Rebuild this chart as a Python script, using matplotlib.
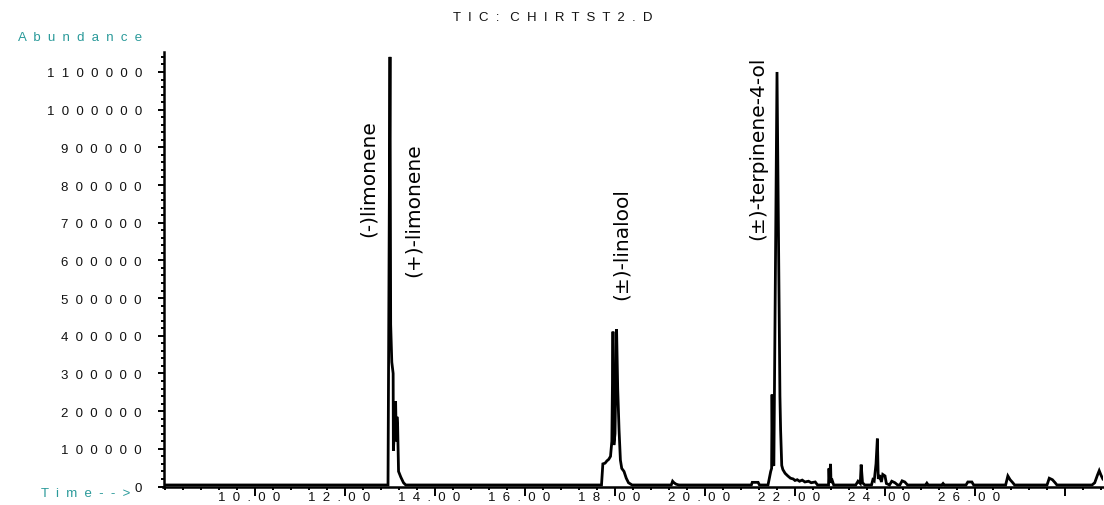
import matplotlib
matplotlib.use('Agg')
import matplotlib.pyplot as plt
from matplotlib.ticker import FixedLocator, FixedFormatter, MultipleLocator
from matplotlib.transforms import ScaledTranslation

plt.rcParams['font.family'] = ['Liberation Sans', 'DejaVu Sans']

# TIC trace, retention time (min) vs abundance
BASE = 4000
time_min = [
    7.97, 12.95, 12.956, 13.00, 13.015, 13.04, 13.07, 13.075, 13.10, 13.125,
    13.14, 13.155, 13.17, 13.19, 13.24, 13.30, 13.35,
    17.70, 17.715, 17.73, 17.78, 17.82, 17.86, 17.90, 17.93, 17.955, 17.975,
    18.00, 18.035, 18.06, 18.09, 18.12, 18.15, 18.20, 18.25, 18.30, 18.38,
    19.25, 19.28, 19.31, 19.36, 19.42,
    21.03, 21.05, 21.18, 21.21,
    21.40, 21.46, 21.48, 21.49, 21.505, 21.53, 21.60, 21.665, 21.68, 21.705,
    21.73, 21.78, 21.84, 21.90, 21.96, 22.00, 22.05, 22.10, 22.16, 22.22,
    22.30, 22.36, 22.45, 22.50,
    22.745, 22.755, 22.765, 22.79, 22.80, 22.83, 22.86,
    23.35, 23.40, 23.45, 23.47, 23.50, 23.55,
    23.70, 23.73, 23.76, 23.80, 23.83, 23.85, 23.88, 23.92, 23.95, 24.00,
    24.03, 24.10, 24.15, 24.22, 24.28, 24.33, 24.38, 24.44, 24.50,
    24.90, 24.93, 24.96, 25.26, 25.29, 25.32,
    25.80, 25.84, 25.93, 25.97,
    26.68, 26.73, 26.78, 26.84, 26.88,
    27.60, 27.65, 27.72, 27.78, 27.82,
    28.60, 28.66, 28.72, 28.76, 28.80, 28.84,
]
abundance = [
    BASE, BASE, BASE, 1140000, 430000, 330000, 300000, 95000, 150000, 226000,
    120000, 185000, 160000, 40000, 25000, 10000, BASE,
    BASE, 30000, 60000, 62000, 68000, 72000, 80000, 120000, 411000, 110000,
    140000, 417000, 260000, 150000, 70000, 48000, 40000, 22000, 10000, BASE,
    BASE, 14000, 10000, 6000, BASE,
    BASE, 11000, 11000, BASE,
    BASE, 40000, 48000, 244000, 60000, 55000, 1100000, 240000, 150000, 56000,
    45000, 35000, 28000, 22000, 20000, 16000, 18000, 14000, 17000, 12000,
    14000, 10000, 12000, BASE,
    BASE, 48000, 20000, 60000, 10000, 15000, BASE,
    BASE, 14000, 8000, 58000, 10000, BASE,
    BASE, 18000, 15000, 60000, 127000, 20000, 30000, 12000, 32000, 28000,
    8000, BASE, 14000, 10000, BASE, BASE, 15000, 12000, BASE,
    BASE, 9000, BASE, BASE, 8000, BASE,
    BASE, 12000, 12000, BASE,
    BASE, 28000, 18000, 10000, BASE,
    BASE, 22000, 18000, 10000, BASE,
    BASE, 10000, 30000, 42000, 30000, 20000,
]

peak_names = ['(-)limonene', '(+)-limonene', '(±)-linalool', '(±)-terpinene-4-ol']
peak_label_at = [(12.51, 665000), (13.51, 559000), (18.13, 498000), (21.18, 657000)]

x_major = [10, 12, 14, 16, 18, 20, 22, 24, 26, 28]
x_major_text = ['10.00', '12.00', '14.00', '16.00', '18.00', '20.00', '22.00', '24.00', '26.00', '']
y_major = list(range(0, 1100001, 100000))

teal = '#2a9a9a'
ink = '#111111'


def spaced(s):
    return '  '.join(s)


fig = plt.figure(figsize=(11.04, 5.06), dpi=100)
ax = fig.add_axes([163.5 / 1104, 18.5 / 506, 939.5 / 1104, 434.5 / 506])

ax.plot(time_min, abundance, color='black', lw=2.0, solid_joinstyle='miter')

ax.set_xlim(7.967, 28.844)
ax.set_ylim(0, 1153000)

for side in ('top', 'right'):
    ax.spines[side].set_visible(False)
for side in ('left', 'bottom'):
    ax.spines[side].set_linewidth(1.8)

ax.xaxis.set_major_locator(FixedLocator(x_major))
ax.xaxis.set_major_formatter(FixedFormatter([spaced(t) for t in x_major_text]))
ax.xaxis.set_minor_locator(MultipleLocator(0.4))
ax.yaxis.set_major_locator(FixedLocator(y_major))
ax.yaxis.set_major_formatter(FixedFormatter([spaced(str(v)) for v in y_major]))
ax.yaxis.set_minor_locator(MultipleLocator(20000))

ax.tick_params(axis='x', which='major', length=6.5, width=1.4, pad=-3.5,
               labelsize=9.5, labelcolor=ink, direction='out')
ax.tick_params(axis='x', which='minor', length=2.5, width=1.4, direction='out')
ax.tick_params(axis='y', which='major', length=4.5, width=1.4, pad=11,
               labelsize=9.5, labelcolor=ink, direction='out')
ax.tick_params(axis='y', which='minor', length=2.2, width=1.4, direction='out')

# put the decimal point of each time label under its tick
shift = ScaledTranslation(-6 / 100, 0, fig.dpi_scale_trans)
for lab in ax.get_xticklabels():
    lab.set_transform(lab.get_transform() + shift)

for name, (tx, ty) in zip(peak_names, peak_label_at):
    ax.text(tx, ty, name, rotation=90, ha='center', va='bottom',
            fontsize=14.5, family='DejaVu Sans', color='black')

fig.text(553 / 1104, 1 - 18 / 506, spaced('TIC:') + '   ' + spaced('CHIRTST2.D'),
         ha='center', va='center', fontsize=9.5, color=ink)
fig.text(142 / 1104, 1 - 38 / 506, spaced('Abundance'),
         ha='right', va='center', fontsize=9.5, color=teal)
fig.text(130 / 1104, 1 - 494 / 506, spaced('Time-->'),
         ha='right', va='center', fontsize=9.5, color=teal)

fig.savefig('out.png', dpi=100)
